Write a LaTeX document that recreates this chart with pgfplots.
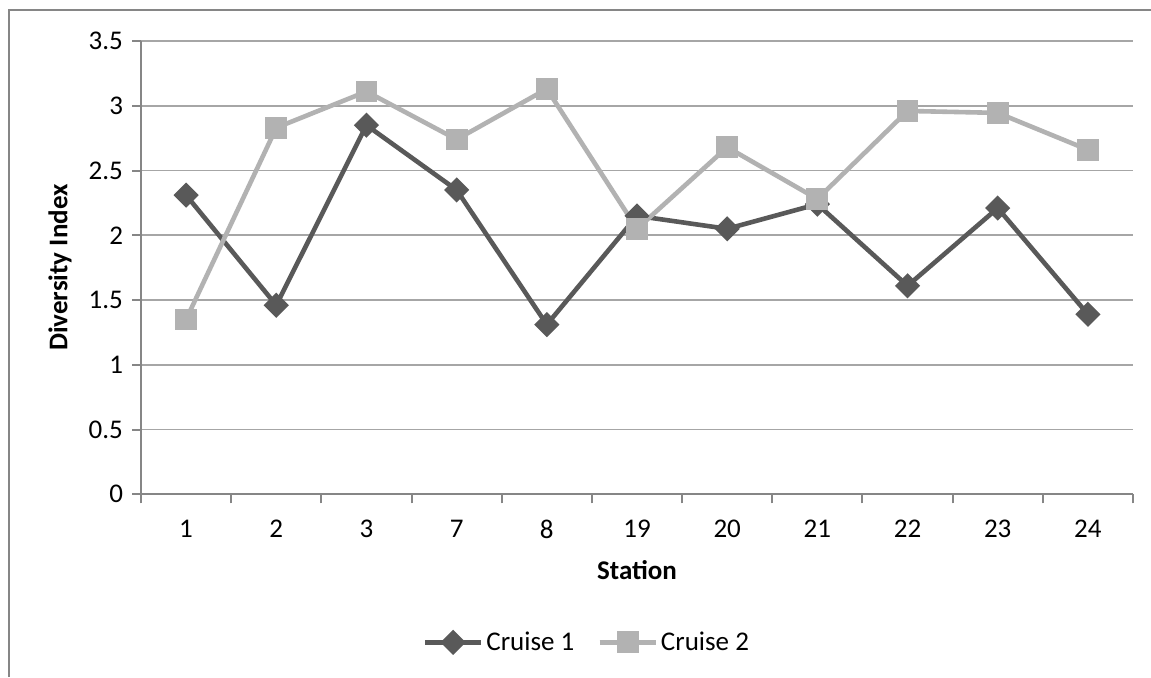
\documentclass[border=0pt]{standalone}
\usepackage{pgfplots}
\pgfplotsset{compat=1.18}
\usepackage{fontspec}
\setmainfont{Carlito}

\definecolor{cruiseone}{HTML}{595959}
\definecolor{cruisetwo}{HTML}{B2B2B2}
\definecolor{axisgray}{HTML}{868686}
\definecolor{gridgray}{HTML}{A6A6A6}

\begin{document}
\begin{tikzpicture}
\useasboundingbox[fill=white] (-70.5pt,-91.35pt) rectangle (505pt,247.15pt);
% chart frame
\draw[axisgray, line width=1.3pt] (-66pt,-91.35pt) -- (-66pt,242.15pt) -- (505pt,242.15pt);
\begin{axis}[
  scale only axis,
  width=496pt, height=226.65pt,
  xmin=-0.5, xmax=10.5,
  ymin=0, ymax=3.5,
  axis x line*=bottom,
  axis y line*=left,
  axis line style={axisgray, line width=1pt, -},
  tick align=outside,
  xtick={0,...,10},
  xticklabels={1,2,3,7,8,19,20,21,22,23,24},
  minor xtick={-0.5,0.5,...,10.5},
  major x tick style={draw=none},
  minor x tick style={axisgray, line width=1pt},
  ytick={0,0.5,...,3.5},
  major y tick style={axisgray, line width=1pt},
  major tick length=4.5pt,
  minor tick length=4.5pt,
  ymajorgrids,
  major grid style={gridgray, line width=0.9pt},
  yticklabel style={/pgf/number format/fixed, /pgf/number format/assume math mode=true},
  yticklabel shift=1pt,
  xticklabel shift=5pt,
  tick label style={font=\fontsize{13.5}{16}\selectfont, text=black},
  xlabel={\bfseries Station},
  ylabel={\bfseries Diversity Index},
  label style={font=\fontsize{13.5}{16}\selectfont},
  xlabel style={at={(axis description cs:0.5,-0.1677)}, anchor=center},
  ylabel style={at={(axis description cs:-0.0817,0.5)}, anchor=center},
  legend style={at={(0.45,-0.3265)}, anchor=center, draw=none, fill=none,
    font=\fontsize{13.5}{16}\selectfont, legend columns=2,
    nodes={inner xsep=1.5pt},
    /tikz/every even column/.append style={column sep=10pt}},
  legend cell align=left,
  legend image code/.code={%
    \draw[#1, mark repeat=2, mark phase=2] plot coordinates {(0pt,0pt) (14pt,0pt) (28pt,0pt)};},
  clip=false,
]
\addplot[cruiseone, line width=2.3pt, mark=square*, mark size=3.3pt,
  mark options={rotate=45, solid, fill=cruiseone}]
  coordinates {(0,2.31) (1,1.46) (2,2.85) (3,2.35) (4,1.31) (5,2.15)
               (6,2.05) (7,2.24) (8,1.61) (9,2.21) (10,1.39)};
\addlegendentry{Cruise 1}
\addplot[cruisetwo, line width=2.3pt, mark=square*, mark size=4.3pt,
  mark options={solid, fill=cruisetwo}]
  coordinates {(0,1.35) (1,2.83) (2,3.11) (3,2.74) (4,3.13) (5,2.05)
               (6,2.68) (7,2.28) (8,2.96) (9,2.945) (10,2.66)};
\addlegendentry{Cruise 2}
\end{axis}
\end{tikzpicture}
\end{document}
